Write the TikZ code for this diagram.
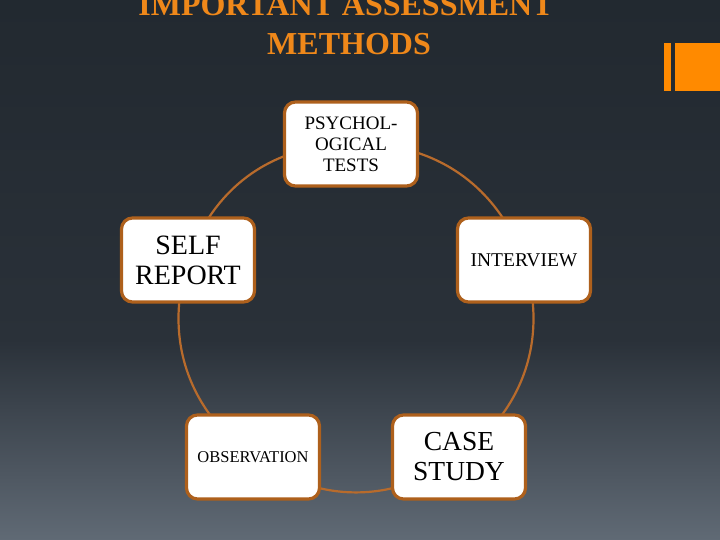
\documentclass[tikz,border=0pt]{standalone}
\usepackage{fontspec}
\setmainfont{Liberation Serif}
\usetikzlibrary{backgrounds}
\definecolor{bgtop}{HTML}{222930}
\definecolor{bgmid}{HTML}{2A3139}
\definecolor{bgbot}{HTML}{606A75}
\definecolor{titleor}{HTML}{EF881A}
\definecolor{baror}{HTML}{FF8A00}
\definecolor{boxedge}{HTML}{AE601C}
\definecolor{ringcol}{HTML}{B86B2C}
\tikzset{
  methodbox/.style={draw=boxedge, line width=3.2pt, fill=white, rounded corners=11pt,
    minimum width=133pt, minimum height=84pt, inner sep=0pt, align=center, text=black},
  ring/.style={draw=ringcol, line width=2.2pt},
  titletext/.style={text=titleor, anchor=base, inner sep=0pt,
    font=\fontsize{32}{38}\selectfont\bfseries},
  barfill/.style={fill=baror, draw=none}
}
\begin{document}
\begin{tikzpicture}[x=1pt,y=-1pt]
\useasboundingbox (0,0) rectangle (720,540);
% title
\node[titletext] (t1) at (346,16) {IMPORTANT ASSESSMENT};
\node[titletext] (t2) at (349,55) {METHODS};
% corner icon
\path[barfill] (663.5,43) rectangle (670.5,91);
\path[barfill] (674.5,43) rectangle (720,91);
% method boxes
\node[methodbox, font=\fontsize{19}{21}\selectfont] (psy) at (351,144) {PSYCHOL-\\OGICAL\\TESTS};
\node[methodbox, font=\fontsize{28}{30}\selectfont] (self) at (188,260) {SELF\\REPORT};
\node[methodbox, font=\fontsize{19.5}{22}\selectfont] (int) at (524,260) {INTERVIEW};
\node[methodbox, font=\fontsize{16.5}{19}\selectfont] (obs) at (253,457) {OBSERVATION};
\node[methodbox, font=\fontsize{27.5}{30}\selectfont] (case) at (459,457) {CASE\\STUDY};
\begin{pgfonlayer}{background}
  \shade[top color=bgtop, bottom color=bgmid] (0,0) rectangle (720,342);
  \shade[top color=bgmid, bottom color=bgbot] (0,340) rectangle (720,540);
  \draw[ring] (psy.center) to[bend right=35] (self.center);
  \draw[ring] (self.center) to[bend right=36] (obs.center);
  \draw[ring] (obs.center) to[bend right=36] (case.center);
  \draw[ring] (case.center) to[bend right=36] (int.center);
  \draw[ring] (int.center) to[bend right=36] (psy.center);
\end{pgfonlayer}
\end{tikzpicture}
\end{document}
